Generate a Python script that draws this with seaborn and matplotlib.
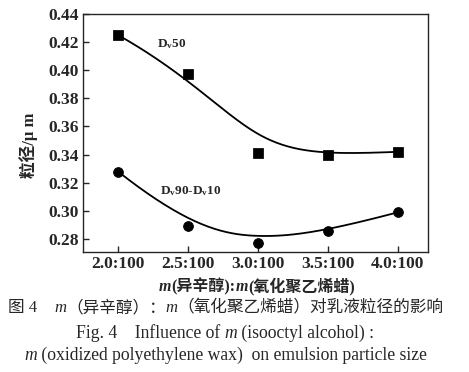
import numpy as np
import pandas as pd
import matplotlib
matplotlib.use("Agg")
import matplotlib.pyplot as plt
import seaborn as sns
from matplotlib.offsetbox import TextArea, HPacker, AnchoredOffsetbox

# data
ratios = [2.0, 2.5, 3.0, 3.5, 4.0]
tick_labels = ["2.0:100", "2.5:100", "3.0:100", "3.5:100", "4.0:100"]
d50 = [0.425, 0.397, 0.341, 0.340, 0.342]
d90_d10 = [0.328, 0.289, 0.277, 0.286, 0.299]

sns.set_style("ticks")
plt.rcParams["font.family"] = ["Liberation Serif", "Noto Sans CJK SC"]
plt.rcParams["mathtext.fontset"] = "custom"
plt.rcParams["mathtext.rm"] = "Liberation Serif"
plt.rcParams["mathtext.it"] = "Liberation Serif:italic"


def bspline(px, py, n=200, k=3):
    # clamped B-spline with the points as control points (like Origin's B-spline line)
    px, py = np.asarray(px, float), np.asarray(py, float)
    m = len(px)
    inner = np.linspace(0, 1, m - k + 1)[1:-1]
    knots = np.concatenate([np.zeros(k + 1), inner, np.ones(k + 1)])
    t = np.linspace(0, 1, n)
    t[-1] -= 1e-9
    N = np.array([((knots[i] <= t) & (t < knots[i + 1])).astype(float)
                  for i in range(len(knots) - 1)])
    for d in range(1, k + 1):
        newN = []
        for i in range(len(knots) - d - 1):
            a = knots[i + d] - knots[i]
            b = knots[i + d + 1] - knots[i + 1]
            val = np.zeros_like(t)
            if a > 0:
                val += (t - knots[i]) / a * N[i]
            if b > 0:
                val += (knots[i + d + 1] - t) / b * N[i + 1]
            newN.append(val)
        N = np.array(newN)
    return N.T @ px, N.T @ py


df = pd.DataFrame({"ratio": ratios, "D50": d50, "D90_D10": d90_d10})
bx, by50 = bspline(ratios, d50)
_, by9010 = bspline(ratios, d90_d10)
fit = pd.DataFrame({"ratio": bx, "D50": by50, "D90_D10": by9010})

fig = plt.figure(figsize=(4.69, 3.72), dpi=100)
ax = fig.add_axes([0.177, 0.3226, 0.7356, 0.640])

sns.lineplot(data=fit, x="ratio", y="D50", color="black", lw=1.3, sort=False, ax=ax)
sns.lineplot(data=fit, x="ratio", y="D90_D10", color="black", lw=1.3, sort=False, ax=ax)
sns.scatterplot(data=df, x="ratio", y="D50", marker="s", s=45, color="black",
                edgecolor="black", ax=ax, zorder=3)
sns.scatterplot(data=df, x="ratio", y="D90_D10", marker="o", s=50, color="black",
                edgecolor="black", ax=ax, zorder=3)

ax.set_xlim(1.75, 4.215)
ax.set_ylim(0.2708, 0.44)
ax.set_xticks(ratios)
ax.set_xticklabels(tick_labels)
yt = np.arange(0.28, 0.441, 0.02)
ax.set_yticks(yt)
ax.set_yticklabels([f"{v:.2f}" for v in yt])
ax.tick_params(direction="in", length=4, width=1, labelsize=12.5, pad=3)
for lab in ax.get_xticklabels() + ax.get_yticklabels():
    lab.set_fontweight("bold")
for sp in ax.spines.values():
    sp.set_visible(True)
    sp.set_linewidth(1.0)

ax.set_xlabel("")
ax.set_ylabel("粒径/μ m", fontsize=12, fontweight="bold", labelpad=6)
ax.yaxis.set_label_coords(-0.13, 0.45)

ax.text(2.28, 0.4165, r"D$_\mathregular{v}$50", fontsize=9.5, fontweight="bold")
ax.text(2.30, 0.312, r"D$_\mathregular{v}$90-D$_\mathregular{v}$10", fontsize=9.5,
        fontweight="bold")


def rich_line(parts, x, y, size, bold=False):
    boxes = []
    for s, italic in parts:
        boxes.append(TextArea(s, textprops=dict(
            fontsize=size, fontweight="bold" if bold else "normal",
            style="italic" if italic else "normal",
            family=["Liberation Serif", "Noto Sans CJK SC"])))
    box = HPacker(children=boxes, align="baseline", pad=0, sep=0)
    anc = AnchoredOffsetbox(loc="center", child=box, pad=0, borderpad=0, frameon=False,
                            bbox_to_anchor=(x, y), bbox_transform=fig.transFigure)
    fig.add_artist(anc)


# x axis title and caption
rich_line([("m", True), ("(异辛醇):", False), ("m", True), ("(氧化聚乙烯蜡)", False)],
          257 / 469, 1 - 286 / 372, 11.5, bold=True)
rich_line([("图 4    ", False), ("m", True), ("（异辛醇）：", False), ("m", True),
           ("（氧化聚乙烯蜡）对乳液粒径的影响", False)], 226 / 469, 1 - 308 / 372, 12)
rich_line([("Fig. 4    Influence of ", False), ("m", True), (" (isooctyl alcohol) :", False)],
          225 / 469, 1 - 333 / 372, 12.7)
rich_line([("m", True), (" (oxidized polyethylene wax)  on emulsion particle size", False)],
          226 / 469, 1 - 355 / 372, 12.7)

fig.savefig("out.png", dpi=100)
